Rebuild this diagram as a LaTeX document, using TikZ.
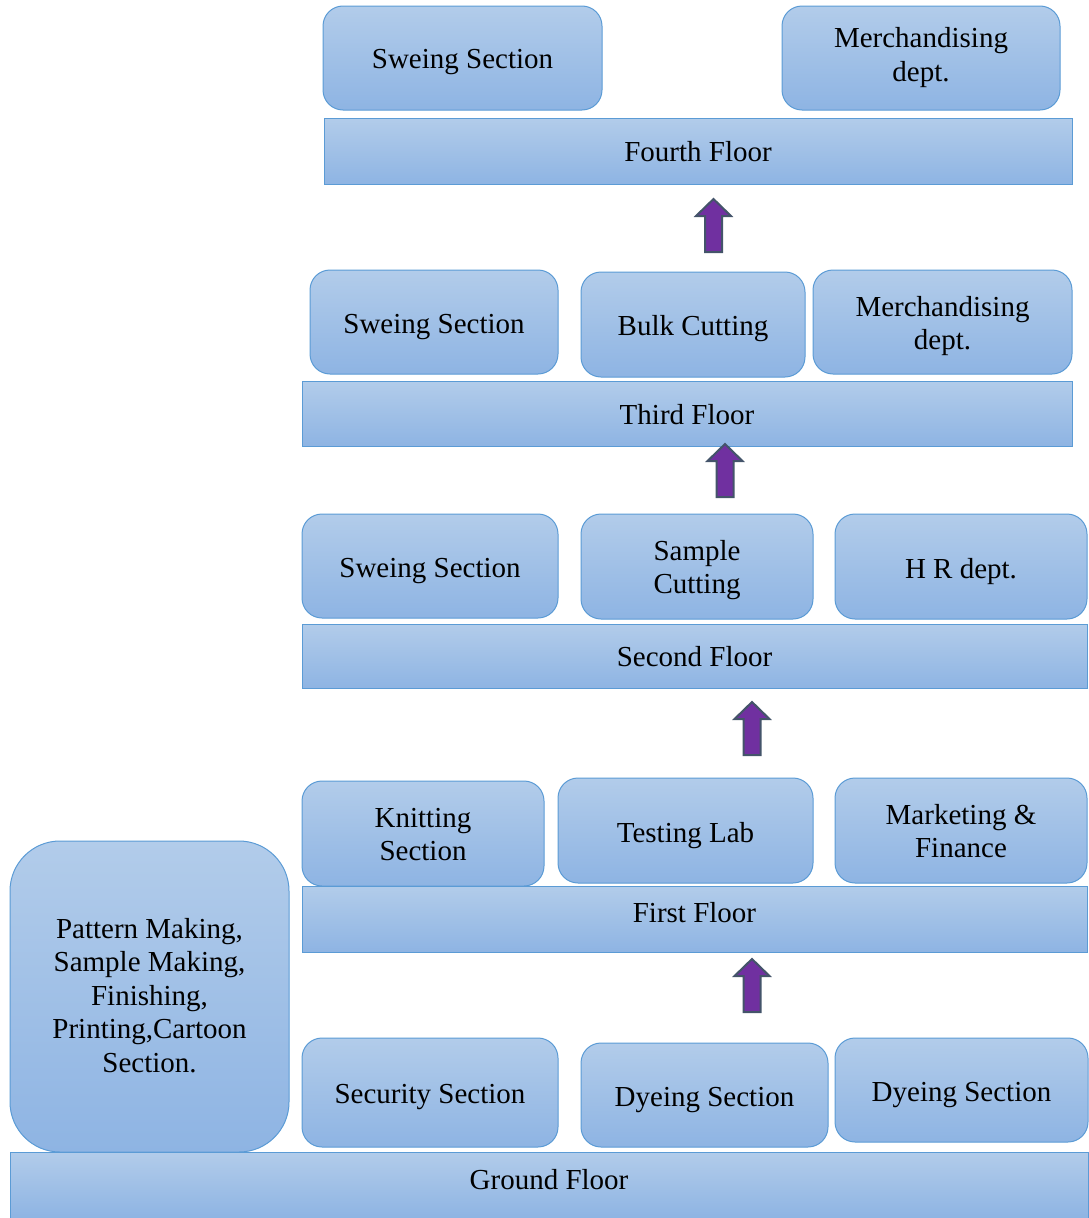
\documentclass[tikz,border=0pt]{standalone}
\usepackage{fontspec}
\setmainfont{Liberation Serif}
\definecolor{bord}{HTML}{5B9BD5}
\definecolor{topc}{HTML}{B2CCEA}
\definecolor{botc}{HTML}{8EB4E3}
\definecolor{arrfill}{HTML}{7030A0}
\definecolor{arrline}{HTML}{44546A}
% #1 = raise of the first baseline above the node centre (pt)
\newcommand\txt[2]{\raisebox{#1pt}[0pt][0pt]{\begin{tabular}[t]{@{}c@{}}#2\end{tabular}}}
\begin{document}
\begin{tikzpicture}[x=1pt,y=-1pt,
  base/.style={draw=bord, line width=1pt, top color=topc, bottom color=botc, inner sep=0pt, font=\fontsize{29}{33.5}\selectfont},
  room/.style={base, rounded corners=20pt},
  floorbox/.style={base},
  uparr/.style={draw=arrline, line width=2pt, fill=arrfill, line join=miter}]
\useasboundingbox (0,0) rectangle (1088,1218);
% Fourth floor
\node[room, minimum width=279pt, minimum height=104pt] (s4) at (462.5,58) {\txt{-10.3}{Sweing Section}};
\node[room, minimum width=278pt, minimum height=104pt] (m4) at (921,58) {\txt{10.3}{Merchandising\\dept.}};
\node[floorbox, minimum width=748pt, minimum height=66pt] (f4) at (698,151) {\txt{-10.3}{Fourth Floor}};
% Third floor
\node[room, minimum width=248pt, minimum height=104pt] (s3) at (434,322) {\txt{-11}{Sweing Section}};
\node[room, minimum width=224pt, minimum height=105pt] (b3) at (693,324.5) {\txt{-10.5}{Bulk Cutting}};
\node[room, minimum width=259pt, minimum height=104pt] (m3) at (942.5,322) {\txt{6}{Merchandising\\dept.}};
\node[floorbox, minimum width=770pt, minimum height=65pt] (f3) at (687,413.5) {\txt{-10.5}{Third Floor}};
% Second floor
\node[room, minimum width=256pt, minimum height=104pt] (s2) at (430,566) {\txt{-11}{Sweing Section}};
\node[room, minimum width=232pt, minimum height=105pt] (c2) at (697,566.5) {\txt{6.5}{Sample\\Cutting}};
\node[room, minimum width=252pt, minimum height=105pt] (h2) at (961,566.5) {\txt{-11.5}{H R dept.}};
\node[floorbox, minimum width=785pt, minimum height=64pt] (f2) at (694.5,656) {\txt{-10}{Second Floor}};
% First floor
\node[room, minimum width=242pt, minimum height=105pt] (k1) at (423,833.5) {\txt{6.5}{Knitting\\Section}};
\node[room, minimum width=255pt, minimum height=105pt] (t1) at (685.5,830.5) {\txt{-11.5}{Testing Lab}};
\node[room, minimum width=252pt, minimum height=105pt] (mf1) at (961,830.5) {\txt{6.5}{Marketing \&\\Finance}};
\node[floorbox, minimum width=785pt, minimum height=66pt] (f1) at (694.5,919) {\txt{-3.7}{First Floor}};
% Ground floor
\node[base, rounded corners=50pt, minimum width=279pt, minimum height=311pt] (p0) at (149.5,996.5) {\txt{58.2}{Pattern Making,\\Sample Making,\\Finishing,\\Printing,Cartoon\\Section.}};
\node[room, minimum width=256pt, minimum height=109pt] (sec) at (430,1092.5) {\txt{-10.5}{Security Section}};
\node[room, minimum width=247pt, minimum height=104pt] (d0a) at (704.5,1095) {\txt{-11}{Dyeing Section}};
\node[room, minimum width=253pt, minimum height=104pt] (d0b) at (961.5,1090) {\txt{-11}{Dyeing Section}};
\node[floorbox, minimum width=1078pt, minimum height=66pt] (g0) at (549,1185) {\txt{-4.7}{Ground Floor}};
% Arrows
\foreach \cx/\bt/\nm in {713.5/252/a4, 725/497/a3, 752/755/a2, 752/1012/a1}{
  \coordinate (\nm) at (\cx,\bt);
  \draw[uparr] (\nm) ++(-8.5,0) -- ++(0,-36) -- ++(-9,0) -- ++(17.5,-17) -- ++(17.5,17) -- ++(-9,0) -- ++(0,36) -- cycle;
}
\end{tikzpicture}
\end{document}
